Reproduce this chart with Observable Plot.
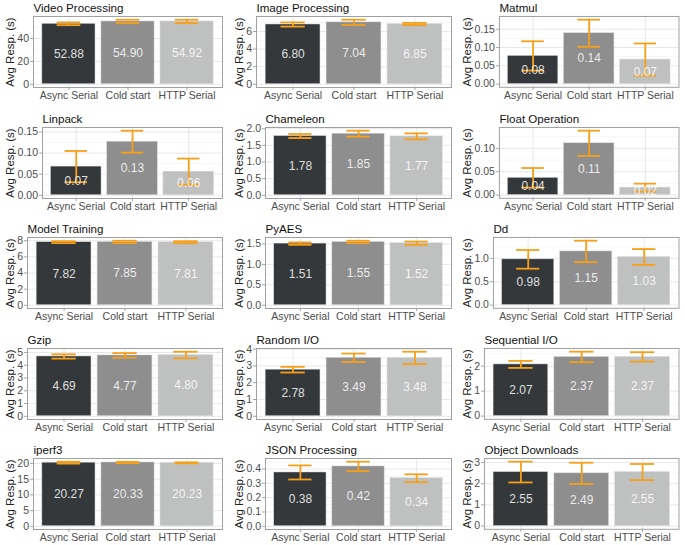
<!DOCTYPE html>
<html><head><meta charset="utf-8">
<script src="https://cdn.jsdelivr.net/npm/d3@7"></script>
<script src="https://cdn.jsdelivr.net/npm/@observablehq/plot@0.6"></script>
<style>
body{margin:0;background:#fff;}
#chart{position:relative;width:685px;height:545px;overflow:hidden;background:#fff;}
#chart > div{position:absolute;}
</style></head><body><div id="chart"></div>
<script>
const panelTitles = ["Video Processing","Image Processing","Matmul","Linpack","Chameleon","Float Operation","Model Training","PyAES","Dd","Gzip","Random I/O","Sequential I/O","iperf3","JSON Processing","Object Downloads"];
const categories = ["Async Serial","Cold start","HTTP Serial"];
const asyncMean = [52.88,6.80,0.077,0.068,1.78,0.037,7.82,1.51,0.98,4.69,2.78,2.07,20.27,0.376,2.55];
const coldMean  = [54.90,7.04,0.139,0.127,1.85,0.111,7.85,1.55,1.15,4.77,3.49,2.37,20.33,0.418,2.49];
const httpMean  = [54.92,6.85,0.067,0.056,1.77,0.016,7.81,1.52,1.03,4.80,3.48,2.37,20.23,0.336,2.55];
const asyncSd = [1.2,0.24,0.040,0.037,0.06,0.021,0.12,0.03,0.20,0.17,0.17,0.14,0.30,0.049,0.49];
const coldSd  = [1.5,0.30,0.037,0.026,0.09,0.027,0.15,0.03,0.23,0.18,0.25,0.21,0.20,0.033,0.50];
const httpSd  = [1.5,0.13,0.044,0.031,0.09,0.0085,0.12,0.04,0.17,0.26,0.37,0.19,0.15,0.027,0.38];
const yTicks = [[0,20,40],[0,2,4,6],[0,0.05,0.1,0.15],[0,0.05,0.1,0.15],[0,0.5,1,1.5,2],[0,0.05,0.1],[0,2,4,6,8],[0,0.5,1,1.5],[0,0.5,1],[0,1,2,3,4,5],[0,1,2,3,4],[0,1,2],[0,5,10,15,20],[0,0.1,0.2,0.3,0.4],[0,1,2,3]];
const yTitle = "Avg Resp. (s)";

const means = [asyncMean, coldMean, httpMean];
const sds = [asyncSd, coldSd, httpSd];
const barColors = ["#35383a","#8e8e8e","#bfc0c0"];
const ORANGE = "#F6A01A";
const FONT = "'Liberation Sans', Arial, Helvetica, sans-serif";
const COL_W = 228.5, ROW_H = 110.6, FRAME_TOP = 16, FRAME_BOTTOM = 87, FRAME_RIGHT = 222;
const ctx = document.createElement("canvas").getContext("2d");
ctx.font = `10.5px ${FONT}`;
const chart = document.getElementById("chart");

panelTitles.forEach((title, i) => {
  const r = Math.floor(i / 3), c = i % 3;
  const ticks = yTicks[i];
  const dec = d3.max(ticks, v => (String(v).split(".")[1] || "").length);
  const fmt = v => v.toFixed(dec);
  const labW = d3.max(ticks, v => ctx.measureText(fmt(v)).width);
  const ml = Math.round(21.5 + labW);
  const data = categories.map((cat, j) => ({cat, mean: means[j][i], sd: sds[j][i]}));
  const M = d3.max(data, d => d.mean + d.sd);
  const lo = -0.05 * M, hi = 1.05 * M;
  const step = ticks[1] - ticks[0];
  const minor = d3.range(-5, 30).map(k => ticks[0] + (k + 0.5) * step).filter(v => v > lo && v < hi);
  const fw = FRAME_RIGHT - ml;
  const bw = fw / 3.2 * 0.9;
  const capInset = bw * (1 - 0.4 / 0.9) / 2;
  const svg = Plot.plot({
    width: COL_W, height: ROW_H,
    marginLeft: ml, marginRight: COL_W - FRAME_RIGHT, marginTop: FRAME_TOP, marginBottom: ROW_H - FRAME_BOTTOM,
    style: {fontFamily: FONT, fontSize: "10.5px", background: "transparent", color: "#4d4d4d", overflow: "visible"},
    x: {domain: categories, paddingInner: 0.1, paddingOuter: 0.15, round: false, label: null},
    y: {domain: [lo, hi], label: null},
    color: {domain: categories, range: barColors},
    marks: [
      Plot.ruleY(minor, {stroke: "#f0f0f0", strokeWidth: 0.6}),
      Plot.gridY(ticks, {stroke: "#e2e2e2", strokeOpacity: 1, strokeWidth: 0.8}),
      Plot.gridX({stroke: "#e2e2e2", strokeOpacity: 1, strokeWidth: 0.8}),
      Plot.barY(data, {x: "cat", y: "mean", fill: "cat", stroke: "#dcdcdc", strokeWidth: 0.5}),
      Plot.ruleX(data, {x: "cat", y1: d => d.mean - d.sd, y2: d => d.mean + d.sd, stroke: ORANGE, strokeWidth: 1.8}),
      Plot.tickY(data, {x: "cat", y: d => d.mean - d.sd, stroke: ORANGE, strokeWidth: 1.8, insetLeft: capInset, insetRight: capInset}),
      Plot.tickY(data, {x: "cat", y: d => d.mean + d.sd, stroke: ORANGE, strokeWidth: 1.8, insetLeft: capInset, insetRight: capInset}),
      Plot.text(data, {x: "cat", y: d => d.mean / 2, text: d => d.mean.toFixed(2), fill: "white", fillOpacity: 0.85, fontSize: 12}),
      Plot.axisY(ticks, {tickSize: 3, tickPadding: 1.5, tickFormat: fmt, stroke: "#a6a6a6", fill: "#4d4d4d", label: null}),
      Plot.axisX({tickSize: 3, tickPadding: 1, stroke: "#a6a6a6", fill: "#4d4d4d", label: null}),
      Plot.frame({stroke: "#a0a0a0"}),
      Plot.text([title], {frameAnchor: "top-left", dy: -4, lineAnchor: "bottom", textAnchor: "start", fontSize: 11.6, fill: "#111"}),
      Plot.text([yTitle], {frameAnchor: "left", dx: -(ml - 10), rotate: -90, fontSize: 11.5, fill: "#222", textAnchor: "middle", lineAnchor: "middle"})
    ]
  });
  const wrap = document.createElement("div");
  wrap.style.left = (c * COL_W) + "px";
  wrap.style.top = (r * ROW_H) + "px";
  wrap.appendChild(svg);
  chart.appendChild(wrap);
});
</script></body></html>
